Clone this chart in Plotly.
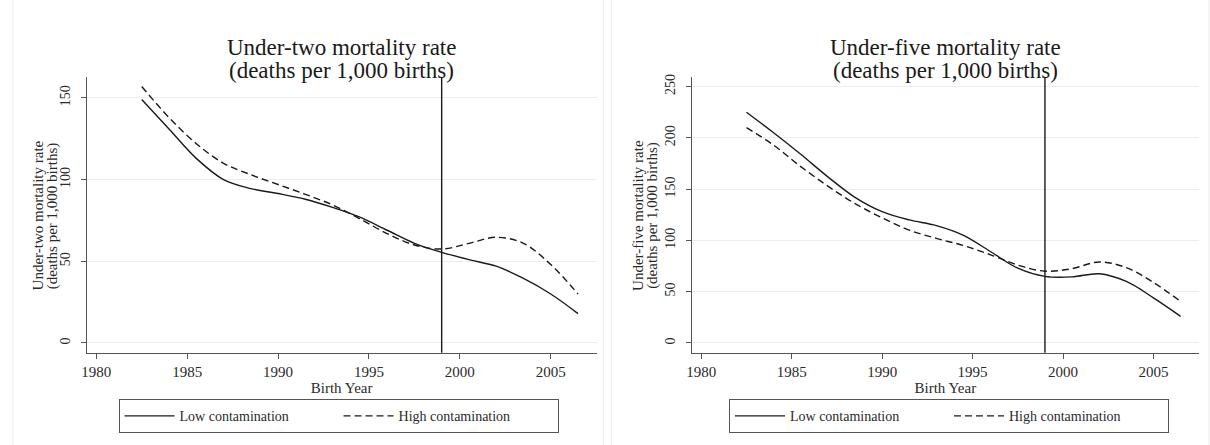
import plotly.graph_objects as go
from plotly.subplots import make_subplots

years = [1982.5, 1984, 1985.5, 1987, 1988.5, 1990, 1991.5, 1993, 1994.5, 1996,
         1997.5, 1999, 2000.5, 2002, 2003.5, 2005, 2006.5]

u2_low = [149, 131, 113, 100, 94.5, 91.5, 88, 83, 77, 69, 61, 55.5, 51, 47, 39.5, 30, 18]
u2_high = [157, 138, 122, 110, 103, 97, 91, 84.5, 76, 67, 60, 57.5, 61, 64.7, 61, 48, 30]

u5_low = [225, 205, 184, 162, 142, 128, 120, 114.5, 105, 89, 73, 65, 64.5, 67.5, 60, 44, 26]
u5_high = [210, 193, 172, 153, 136, 122, 110, 102, 95, 86, 76, 70, 72.5, 79, 73.5, 59, 40.5]

cutoff_year = 1999
x_ticks = [1980, 1985, 1990, 1995, 2000, 2005]
u2_ticks = [0, 50, 100, 150]
u5_ticks = [0, 50, 100, 150, 200, 250]

title_lines = [["Under-two mortality rate", "(deaths per 1,000 births)"],
               ["Under-five mortality rate", "(deaths per 1,000 births)"]]
ytitle_lines = [["Under-two mortality rate", "(deaths per 1,000 births)"],
                ["Under-five mortality rate", "(deaths per 1,000 births)"]]
series_names = ["Low contamination", "High contamination"]

FONT = "Liberation Serif"
INK = "#1a1a1a"
TXT = "#2a2a2a"
AXC = "#555555"
GRID = "#e6eff1"

W, H = 1210, 445
dom_l = [82 / W, 594 / W]
dom_r = [689.5 / W, 1199 / W]
ydom = [(H - 352) / H, (H - 75) / H]

fig = make_subplots(rows=1, cols=2)

panels = [(u2_low, u2_high, u2_ticks, [-5.9, 162.5], "legend"),
          (u5_low, u5_high, u5_ticks, [-9.4, 258.9], "legend2")]

for i, (low, high, yt, yr, lg) in enumerate(panels):
    col = i + 1
    fig.add_trace(go.Scatter(x=years, y=low, mode="lines", name=series_names[0],
                             line=dict(color=INK, width=1.4, shape="spline", smoothing=1.0),
                             legend=lg, showlegend=True), row=1, col=col)
    fig.add_trace(go.Scatter(x=years, y=high, mode="lines", name=series_names[1],
                             line=dict(color=INK, width=1.4, dash="7px,4px", shape="spline", smoothing=1.0),
                             legend=lg, showlegend=True), row=1, col=col)
    fig.update_xaxes(range=[1979.47, 2007.52], tickvals=x_ticks, ticks="outside", ticklen=5,
                     tickcolor=AXC, showline=True, linecolor=AXC, linewidth=1, showgrid=False,
                     zeroline=False, tickfont=dict(family=FONT, size=15, color=TXT),
                     title=dict(text="Birth Year", font=dict(family=FONT, size=15, color=TXT), standoff=0),
                     row=1, col=col)
    fig.update_yaxes(range=yr, tickvals=yt, ticks="outside", ticklen=5, tickangle=-90,
                     ticklabelstandoff=5,
                     tickcolor=AXC, showline=True, linecolor=AXC, linewidth=1, showgrid=True,
                     gridcolor=GRID, gridwidth=1, zeroline=False,
                     tickfont=dict(family=FONT, size=14, color=TXT), row=1, col=col)
    fig.add_vline(x=cutoff_year, line=dict(color=INK, width=1.4), row=1, col=col)

leg_common = dict(orientation="h", xanchor="left", yanchor="top", y=(H - 399) / H,
                  bordercolor=AXC, borderwidth=1, entrywidth=154, itemwidth=50,
                  font=dict(family=FONT, size=14, color=TXT), bgcolor="white")

fig.update_layout(
    width=W, height=H,
    margin=dict(l=0, r=0, t=0, b=0),
    paper_bgcolor="white", plot_bgcolor="white",
    xaxis=dict(domain=dom_l), xaxis2=dict(domain=dom_r),
    yaxis=dict(domain=ydom), yaxis2=dict(domain=ydom),
    legend=dict(x=114 / W, **leg_common),
    legend2=dict(x=727 / W, **leg_common),
)

centers = [(dom_l[0] + dom_l[1]) / 2, (dom_r[0] + dom_r[1]) / 2]
for i in range(2):
    for j, yy in enumerate([44.5, 68]):
        fig.add_annotation(text=title_lines[i][j], xref="paper", yref="paper", x=centers[i],
                           y=(H - yy) / H, showarrow=False,
                           font=dict(family=FONT, size=23, color=INK),
                           xanchor="center", yanchor="middle")

ytx = [[33, 48], [635, 650]]
for i in range(2):
    for j in range(2):
        fig.add_annotation(text=ytitle_lines[i][j], xref="paper", yref="paper",
                           x=ytx[i][j] / W, y=(H - 214) / H, showarrow=False, textangle=-90,
                           font=dict(family=FONT, size=15, color=TXT),
                           xanchor="center", yanchor="middle")

# faint panel frames
for x0, x1 in [(8, 601), (609, 1209)]:
    fig.add_shape(type="rect", xref="paper", yref="paper", x0=x0 / W, x1=x1 / W,
                  y0=-0.01, y1=1.01, line=dict(color="#ececec", width=1), layer="below")

fig.write_html("out.html")
